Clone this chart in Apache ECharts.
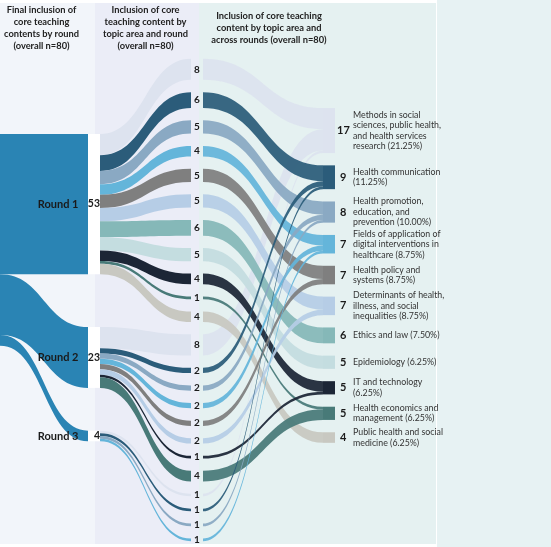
<!DOCTYPE html>
<html><head><meta charset="utf-8">
<script src="https://cdn.jsdelivr.net/npm/echarts@6/dist/echarts.min.js"></script>
<style>html,body{margin:0;padding:0;background:#fff}#c{width:551px;height:547px}</style>
</head><body><div id="c"></div>
<script>
// ---------------- data ----------------
const rounds = ['Round 1', 'Round 2', 'Round 3'];
const topicKeys = ['Methods', 'Health communication', 'Health promotion', 'Digital interventions',
  'Health policy', 'Determinants', 'Ethics and law', 'Epidemiology', 'IT and technology',
  'Health economics', 'Public health'];
const topicLabels = [
  ['Methods in social', 'sciences, public health,', 'and health services', 'research (21.25%)'],
  ['Health communication', '(11.25%)'],
  ['Health promotion,', 'education, and', 'prevention (10.00%)'],
  ['Fields of application of', 'digital interventions in', 'healthcare (8.75%)'],
  ['Health policy and', 'systems (8.75%)'],
  ['Determinants of health,', 'illness, and social', 'inequalities (8.75%)'],
  ['Ethics and law (7.50%)'],
  ['Epidemiology (6.25%)'],
  ['IT and technology', '(6.25%)'],
  ['Health economics and', 'management (6.25%)'],
  ['Public health and social', 'medicine (6.25%)']
];
const round1Counts = [8, 6, 5, 4, 5, 5, 6, 5, 4, 1, 4];
const round2Counts = [8, 2, 2, 2, 2, 2, 0, 0, 1, 4, 0];
const round3Counts = [1, 1, 1, 1, 0, 0, 0, 0, 0, 0, 0];
const titles = [
  'Final inclusion of\ncore teaching\ncontents by round\n(overall n=80)',
  'Inclusion of core\nteaching content by\ntopic area and round\n(overall n=80)',
  'Inclusion of core teaching\ncontent by topic area and\nacross rounds (overall n=80)'
];

// ---------------- styles / layout ----------------
const topicColors = ['#dde3ef', '#2b5c7a', '#8aa9c3', '#64b5da', '#7f7f7f', '#b6cde6',
  '#85b8b8', '#c4dde0', '#1c2636', '#487a78', '#c8c8c1'];
const roundColor = '#2a84b4';
const FONT = 'Lato, "Open Sans", sans-serif';
const colDepth = { source: 0, round: 100, mid: 203, topic: 335 };
// invisible layout spacers (in flow units) that offset columns vertically
const spacer = { source: [23.8], round: [23.8, 10.65, 6.88], topic: [14] };

const roundCounts = [round1Counts, round2Counts, round3Counts];
const sum = a => a.reduce((s, v) => s + v, 0);
const transparent = 'rgba(0,0,0,0)';
const hiddenNode = (name, value, depth) => ({
  name, value, depth, itemStyle: { color: transparent, borderWidth: 0 }, label: { show: false }
});

const roundLabel = {
  show: true, position: 'insideRight', distance: 0,
  formatter: p => '{a|' + p.name + '}{b|' + p.value + '}',
  rich: {
    a: { fontFamily: FONT, fontSize: 11, fontWeight: 'bold', color: '#1a1a1a', padding: [0, 9, 0, 0] },
    b: { fontFamily: FONT, fontSize: 10.5, fontWeight: 'bold', color: '#1a1a1a', width: 12.5 }
  }
};
const midLabel = {
  show: true, position: 'inside', formatter: p => String(p.value),
  fontFamily: FONT, fontSize: 10, fontWeight: 'bold', color: '#1a1a1a'
};
function topicLabel(t, v) {
  const lines = topicLabels[t];
  const n = lines.length;
  const LH = 10.5;
  const vs = String(v);
  const padL = vs.length > 1 ? 2 : 5;
  return {
    show: true, position: 'right', distance: 0, lineHeight: LH,
    formatter: lines.map((s, j) => j === 0 ? '{v|' + vs + '}{t|' + s + '}' : '{ti|' + s + '}').join('\n'),
    rich: {
      v: { fontFamily: FONT, fontSize: 11, fontWeight: 'bold', color: '#1a1a1a', width: 16 - padL,
           height: LH, lineHeight: LH, verticalAlign: 'top', padding: [(n - 1) * LH / 2, 0, 0, padL] },
      t: { fontFamily: FONT, fontSize: 8.8, color: '#333', lineHeight: LH, padding: [0, 0, 0, 2] },
      ti: { fontFamily: FONT, fontSize: 8.8, color: '#333', lineHeight: LH, padding: [0, 0, 0, 18] }
    }
  };
}

// ---------------- build graph ----------------
const nodes = [], links = [];
const total = sum(roundCounts.map(sum));
nodes.push(hiddenNode('_sp_src', spacer.source[0], colDepth.source));
nodes.push(hiddenNode('All', total, colDepth.source));
rounds.forEach((r, i) => {
  nodes.push(hiddenNode('_sp_r' + i, spacer.round[i], colDepth.round));
  const v = sum(roundCounts[i]);
  nodes.push({ name: r, value: v, depth: colDepth.round, itemStyle: { color: '#ffffff', borderWidth: 0 }, label: roundLabel });
  links.push({ source: 'All', target: r, value: v, lineStyle: { color: roundColor, opacity: 1 } });
});
const midName = (i, t) => rounds[i] + ' · ' + topicKeys[t];
rounds.forEach((r, i) => roundCounts[i].forEach((c, t) => {
  if (!c) return;
  nodes.push({ name: midName(i, t), value: c, depth: colDepth.mid, itemStyle: { color: transparent, borderWidth: 0 }, label: midLabel });
}));
nodes.push(hiddenNode('_sp_t', spacer.topic[0], colDepth.topic));
topicKeys.forEach((k, t) => {
  const v = sum(roundCounts.map(a => a[t]));
  nodes.push({ name: k, value: v, depth: colDepth.topic, itemStyle: { color: topicColors[t], borderWidth: 0 }, label: topicLabel(t, v) });
});
// links: the pale first topic is drawn first (behind), then rounds in order
const drawOrder = [];
rounds.forEach((r, i) => roundCounts[i].forEach((c, t) => { if (c && t === 0) drawOrder.push([i, t, c]); }));
rounds.forEach((r, i) => roundCounts[i].forEach((c, t) => { if (c && t !== 0) drawOrder.push([i, t, c]); }));
drawOrder.forEach(([i, t, c]) => {
  links.push({ source: rounds[i], target: midName(i, t), value: c, lineStyle: { color: topicColors[t], opacity: 1 } });
});
drawOrder.forEach(([i, t, c]) => {
  links.push({ source: midName(i, t), target: topicKeys[t], value: c, lineStyle: { color: topicColors[t], opacity: 0.93 } });
});

// ---------------- chart ----------------
const chart = echarts.init(document.getElementById('c'), null, { renderer: 'canvas' });
const panels = [
  { x: 0, y: 3, w: 95, h: 541, c: '#f2f5fa' },
  { x: 95, y: 3, w: 104, h: 541, c: '#ebedf7' },
  { x: 199, y: 3, w: 237, h: 541, c: '#e5f1f1' },
  { x: 437, y: 0, w: 114, h: 547, c: '#e7f2f3' }
];
const titlePos = [[41.5, 4], [145.5, 4], [269, 10]];
chart.setOption({
  animation: false,
  backgroundColor: '#ffffff',
  graphic: [
    ...panels.map(p => ({ type: 'rect', z: -10, silent: true, shape: { x: p.x, y: p.y, width: p.w, height: p.h }, style: { fill: p.c } })),
    ...titles.map((t, i) => ({ type: 'text', z: 10, silent: true, x: titlePos[i][0], y: titlePos[i][1],
      style: { text: t, align: 'center', verticalAlign: 'top', fontFamily: FONT, fontSize: 9.3, fontWeight: 'bold', lineHeight: 11.9, fill: '#222' } }))
  ],
  series: [{
    type: 'sankey',
    left: -12, top: 58.7, width: 347, height: 482.5,
    nodeWidth: 12, nodeGap: 12.31,
    layoutIterations: 0, nodeAlign: 'left', draggable: false,
    emphasis: { disabled: true },
    itemStyle: { borderWidth: 0 },
    label: { show: false },
    lineStyle: { curveness: 0.5 },
    data: nodes,
    links: links
  }]
});
</script></body></html>
